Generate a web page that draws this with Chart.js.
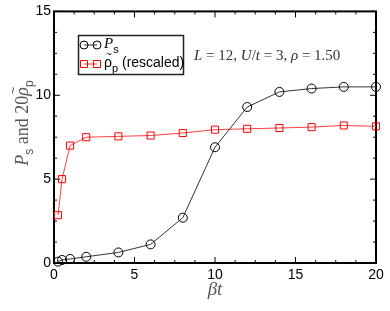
<!DOCTYPE html>
<html>
<head>
<meta charset="utf-8">
<script src="https://cdn.jsdelivr.net/npm/chart.js@4/dist/chart.umd.min.js"></script>
<style>
  html, body { margin: 0; padding: 0; background: #fff; }
  #wrap { width: 390px; height: 311px; }
</style>
</head>
<body>
<div id="wrap"><canvas id="chart" width="390" height="311"></canvas></div>
<script>
// =========================
// DATA
// =========================
const betaT = [0.25, 0.5, 1, 2, 4, 6, 8, 10, 12, 14, 16, 18, 20];
const psValues = [0.08, 0.18, 0.24, 0.37, 0.63, 1.11, 2.7, 6.9, 9.3, 10.2, 10.4, 10.5, 10.5];
const rhoValues = [2.85, 5.0, 7.0, 7.5, 7.55, 7.6, 7.75, 7.95, 8.0, 8.05, 8.1, 8.2, 8.15];
const xTicks = [0, 5, 10, 15, 20];
const yTicks = [0, 5, 10, 15];
const seriesNames = [["P", "s", ""], ["ρ", "p", " (rescaled)"]];
const xTitle = "βt";
const yTitle = [["P", "s"], [" and 20", ""], ["ρ", "p"]];
const infoText = [["L", 1], [" = 12, ", 0], ["U", 1], ["/", 0], ["t", 1], [" = 3, ", 0], ["ρ", 1], [" = 1.50", 0]];

const SANS = "'Liberation Sans', Arial, sans-serif";
const SERIF = "'Liberation Serif', 'Times New Roman', serif";

// draws a glyph with an optional tilde above it, returns advance
function glyph(ctx, txt, x, y, font, tilde, size) {
  ctx.font = font;
  ctx.fillText(txt, x, y);
  const w = ctx.measureText(txt).width;
  if (tilde) {
    const f = ctx.font;
    ctx.font = Math.round(size * 0.7) + "px " + SANS;
    ctx.textAlign = "center";
    ctx.fillText("~", x + w / 2 + 1, y - size * 0.62);
    ctx.textAlign = "left";
    ctx.font = f;
  }
  return w;
}

// =========================
// FRAME + INNER TICKS
// =========================
const framePlugin = {
  id: "frame",
  beforeDatasetsDraw(chart) {
    const { ctx, chartArea: a, scales } = chart;
    ctx.save();
    ctx.strokeStyle = "#000";
    ctx.lineWidth = 1;
    // minor every 1.25, major every 5
    for (let v = 0; v <= 20.001; v += 1.25) {
      const px = scales.x.getPixelForValue(v);
      const len = Math.abs(v % 5) < 0.01 ? 6 : 3;
      ctx.beginPath();
      ctx.moveTo(px, a.bottom); ctx.lineTo(px, a.bottom - len);
      ctx.moveTo(px, a.top); ctx.lineTo(px, a.top + len);
      ctx.stroke();
    }
    for (let v = 0; v <= 15.001; v += 1.25) {
      const py = scales.y.getPixelForValue(v);
      const len = Math.abs(v % 5) < 0.01 ? 6 : 3;
      ctx.beginPath();
      ctx.moveTo(a.left, py); ctx.lineTo(a.left + len, py);
      ctx.moveTo(a.right, py); ctx.lineTo(a.right - len, py);
      ctx.stroke();
    }
    ctx.lineWidth = 2;
    ctx.strokeRect(a.left, a.top, a.right - a.left, a.bottom - a.top);
    ctx.restore();
  },
  afterDraw(chart) {
    const { ctx, chartArea: a } = chart;

    // y title (rotated)
    ctx.save();
    ctx.translate(22, 123);
    ctx.rotate(-Math.PI / 2);
    ctx.fillStyle = "#555";
    ctx.textBaseline = "alphabetic";
    ctx.textAlign = "left";
    const mainF = "18px " + SERIF, itF = "italic 18px " + SERIF, subF = "12px " + SANS;
    let w = 0;
    yTitle.forEach(([t, s], i) => {
      ctx.font = i === 1 ? mainF : itF; w += ctx.measureText(t).width;
      ctx.font = subF; w += ctx.measureText(s).width;
    });
    let x = -w / 2;
    yTitle.forEach(([t, s], i) => {
      x += glyph(ctx, t, x, 6, i === 1 ? mainF : itF, i === 2, 18);
      if (s) x += glyph(ctx, s, x, 11, subF, false, 12);
    });
    ctx.restore();

    // x title
    ctx.save();
    ctx.fillStyle = "#555";
    ctx.font = "italic 19px " + SERIF;
    ctx.textAlign = "center";
    ctx.textBaseline = "alphabetic";
    ctx.fillText(xTitle, (a.left + a.right) / 2, 295);
    ctx.restore();

    // info text
    ctx.save();
    ctx.fillStyle = "#333";
    ctx.textBaseline = "alphabetic";
    let ix = 194;
    infoText.forEach(([t, it]) => {
      ctx.font = (it ? "italic " : "") + "15px " + SERIF;
      ctx.fillText(t, ix, 60);
      ix += ctx.measureText(t).width;
    });
    ctx.restore();

    // legend
    ctx.save();
    ctx.strokeStyle = "#222";
    ctx.lineWidth = 1.5;
    ctx.strokeRect(78.5, 35.5, 105, 39);
    const rows = [
      { y: 45, color: "#000", line: "#333", style: "circle" },
      { y: 64, color: "#ff0000", line: "#ff3333", style: "rect" }
    ];
    rows.forEach(r => {
      ctx.strokeStyle = r.line;
      ctx.lineWidth = 1;
      ctx.beginPath(); ctx.moveTo(84, r.y); ctx.lineTo(97, r.y); ctx.stroke();
      ctx.strokeStyle = r.color;
      [84, 97].forEach(cx => {
        ctx.beginPath();
        if (r.style === "circle") ctx.arc(cx, r.y, 4, 0, Math.PI * 2);
        else ctx.rect(cx - 3.5, r.y - 3.5, 7, 7);
        ctx.stroke();
      });
    });
    ctx.fillStyle = "#000";
    ctx.textBaseline = "alphabetic";
    ctx.textAlign = "left";
    let lx = 104;
    lx += glyph(ctx, seriesNames[0][0], lx, 48, "italic 15px " + SERIF, false, 15);
    glyph(ctx, seriesNames[0][1], lx, 53, "11px " + SANS, false, 11);
    lx = 104;
    lx += glyph(ctx, seriesNames[1][0], lx, 67, "14px " + SANS, true, 14);
    lx += glyph(ctx, seriesNames[1][1], lx, 72, "11px " + SANS, false, 11);
    glyph(ctx, seriesNames[1][2], lx, 67, "14px " + SANS, false, 14);
    ctx.restore();
  }
};

// =========================
// CHART
// =========================
new Chart(document.getElementById("chart"), {
  type: "line",
  data: {
    datasets: [
      {
        label: seriesNames[0].join(""),
        data: betaT.map((x, i) => ({ x, y: psValues[i] })),
        borderColor: "#333",
        borderWidth: 1,
        pointStyle: "circle",
        pointRadius: 4.5,
        pointBorderColor: "#000",
        pointBorderWidth: 1,
        pointBackgroundColor: "rgba(0,0,0,0)",
        tension: 0,
        clip: false
      },
      {
        label: seriesNames[1].join(""),
        data: betaT.map((x, i) => ({ x, y: rhoValues[i] })),
        borderColor: "#ff4040",
        borderWidth: 1,
        pointStyle: "rect",
        pointRadius: 5,
        pointBorderColor: "#ff0000",
        pointBorderWidth: 1,
        pointBackgroundColor: "rgba(0,0,0,0)",
        tension: 0,
        clip: false
      }
    ]
  },
  options: {
    responsive: false,
    animation: false,
    layout: { padding: { top: 10, right: 14, left: 0, bottom: 0 } },
    plugins: { legend: { display: false }, tooltip: { enabled: false } },
    scales: {
      x: {
        type: "linear",
        min: 0,
        max: 20,
        afterBuildTicks: s => { s.ticks = xTicks.map(v => ({ value: v })); },
        afterFit: s => { s.height = 48; },
        grid: { display: false, drawTicks: false },
        border: { display: false },
        ticks: { color: "#000", padding: 4, maxRotation: 0, font: { family: SANS, size: 14 } }
      },
      y: {
        type: "linear",
        min: 0,
        max: 15,
        afterBuildTicks: s => { s.ticks = yTicks.map(v => ({ value: v })); },
        afterFit: s => { s.width = 54; },
        grid: { display: false, drawTicks: false },
        border: { display: false },
        ticks: { color: "#000", padding: 3, font: { family: SANS, size: 14 } }
      }
    }
  },
  plugins: [framePlugin]
});
</script>
</body>
</html>
